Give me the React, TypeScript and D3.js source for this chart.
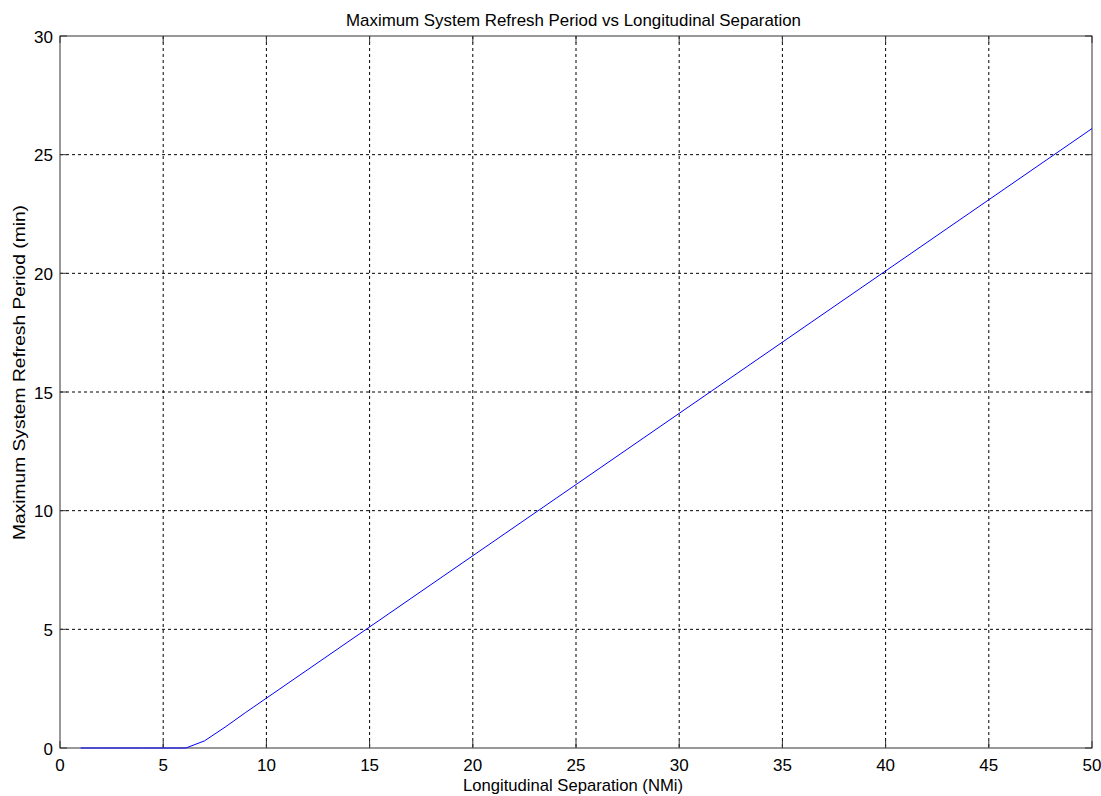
import React from "react";
import * as d3 from "d3";

const xValues = [1, 2, 3, 4, 5, 6, 6.1, 7, 8, 9, 10, 15, 20, 25, 30, 35, 40, 45, 50];
const yValues = [0, 0, 0, 0, 0, 0, 0, 0.3, 0.88, 1.5, 2.1, 5.1, 8.1, 11.1, 14.1, 17.1, 20.1, 23.1, 26.1];
const xTicks = [0, 5, 10, 15, 20, 25, 30, 35, 40, 45, 50];
const yTicks = [0, 5, 10, 15, 20, 25, 30];
const title = "Maximum System Refresh Period vs Longitudinal Separation";
const xLabel = "Longitudinal Separation (NMi)";
const yLabel = "Maximum System Refresh Period (min)";

export default function App() {
  const W = 1101, H = 796;
  const L = 60, R = 1092, T = 36, B = 748;
  const x = d3.scaleLinear().domain([0, 50]).range([L, R]);
  const y = d3.scaleLinear().domain([0, 30]).range([B, T]);
  const pts = xValues.map((v, i) => [v, yValues[i]] as [number, number]);
  const line = d3.line<[number, number]>().x(d => x(d[0])).y(d => y(d[1]));
  const font = "Arial, 'Liberation Sans', sans-serif";
  const axisColor = "#333";
  const tl = 7;
  return (
    <svg width={W} height={H} style={{ position: "absolute", left: 0, top: 0, background: "#fff" }}>
      <rect x={0} y={0} width={W} height={H} fill="#fff" />
      {xTicks.slice(1, -1).map(t => (
        <line key={"gx" + t} x1={x(t)} x2={x(t)} y1={T} y2={B} stroke="#000" strokeWidth={1} strokeDasharray="3,3" />
      ))}
      {yTicks.slice(1, -1).map(t => (
        <line key={"gy" + t} x1={L} x2={R} y1={y(t)} y2={y(t)} stroke="#000" strokeWidth={1} strokeDasharray="3,3" />
      ))}
      {xTicks.map(t => (
        <g key={"tx" + t}>
          <line x1={x(t)} x2={x(t)} y1={B} y2={B - tl} stroke={axisColor} />
          <line x1={x(t)} x2={x(t)} y1={T} y2={T + tl} stroke={axisColor} />
          <text x={x(t)} y={771} textAnchor="middle" fontFamily={font} fontSize={17} fill="#000">{t}</text>
        </g>
      ))}
      {yTicks.map(t => (
        <g key={"ty" + t}>
          <line x1={L} x2={L + tl} y1={y(t)} y2={y(t)} stroke={axisColor} />
          <line x1={R} x2={R - tl} y1={y(t)} y2={y(t)} stroke={axisColor} />
          <text x={L - 7} y={y(t) + 6.5} textAnchor="end" fontFamily={font} fontSize={17} fill="#000">{t}</text>
        </g>
      ))}
      <rect x={L} y={T} width={R - L} height={B - T} fill="none" stroke={axisColor} strokeWidth={1} />
      <path d={line(pts) || ""} fill="none" stroke="#0000ff" strokeWidth={1} />
      <text x={573.5} y={26} textAnchor="middle" fontFamily={font} fontSize={17} fill="#000" textLength={455} lengthAdjust="spacingAndGlyphs">{title}</text>
      <text x={573} y={791} textAnchor="middle" fontFamily={font} fontSize={17} fill="#000" textLength={220} lengthAdjust="spacingAndGlyphs">{xLabel}</text>
      <text transform={`translate(25, 372.5) rotate(-90)`} textAnchor="middle" fontFamily={font} fontSize={17} fill="#000" textLength={335} lengthAdjust="spacingAndGlyphs">{yLabel}</text>
    </svg>
  );
}
